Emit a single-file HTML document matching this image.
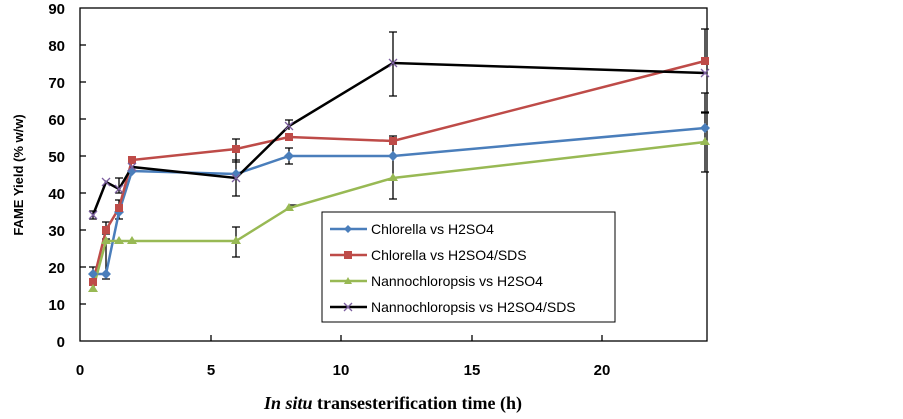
<!DOCTYPE html><html><head><style>body{margin:0;background:#fff}svg{font-family:"Liberation Sans",sans-serif}</style></head><body>
<svg width="903" height="414" xmlns="http://www.w3.org/2000/svg">
<rect x="80" y="8" width="627" height="333" fill="none" stroke="#000" stroke-width="1.3"/>
<g font-size="15" font-weight="bold" text-anchor="end">
<text x="65" y="347">0</text><text x="65" y="310">10</text><text x="65" y="273">20</text><text x="65" y="236">30</text><text x="65" y="199">40</text><text x="65" y="162">50</text><text x="65" y="125">60</text><text x="65" y="88">70</text><text x="65" y="51">80</text><text x="65" y="14">90</text>
</g>
<g stroke="#000" stroke-width="1.3">
<line x1="80" y1="304" x2="86" y2="304"/><line x1="80" y1="267" x2="86" y2="267"/><line x1="80" y1="230" x2="86" y2="230"/><line x1="80" y1="193" x2="86" y2="193"/><line x1="80" y1="156" x2="86" y2="156"/><line x1="80" y1="119" x2="86" y2="119"/><line x1="80" y1="82" x2="86" y2="82"/><line x1="80" y1="45" x2="86" y2="45"/>
<line x1="211" y1="341" x2="211" y2="335"/><line x1="341" y1="341" x2="341" y2="335"/><line x1="472" y1="341" x2="472" y2="335"/><line x1="602" y1="341" x2="602" y2="335"/>
</g>
<g font-size="15" font-weight="bold" text-anchor="middle">
<text x="80" y="375">0</text><text x="211" y="375">5</text><text x="341" y="375">10</text><text x="472" y="375">15</text><text x="602" y="375">20</text>
</g>
<text transform="translate(23,175) rotate(-90)" font-size="13" font-weight="bold" text-anchor="middle">FAME Yield (% w/w)</text>
<text x="393" y="409" font-size="18" font-weight="bold" text-anchor="middle" font-family="Liberation Serif,serif"><tspan font-style="italic">In situ</tspan> transesterification time (h)</text>
<g stroke="#000" stroke-width="1.3">
<path d="M93 267v16M89 267h8M89 283h8 M93 211v8M89 211h8M89 219h8
M106 222v12M102 222h8M102 234h8 M106 239v40M102 239h8M102 279h8
M119 178v15M115 178h8M115 193h8 M119 200v19M115 200h8M115 219h8
M236 139v23M232 139h8M232 162h8 M236 160v36M232 160h8M232 196h8 M236 227v30M232 227h8M232 257h8
M289 148v16M285 148h8M285 164h8 M289 120v10M285 120h8 M289 205h8
M393 32v64M389 32h8M389 96h8 M393 136v63M389 136h8M389 199h8
M705 29v35M701 29h8M701 64h8 M705 93v20M701 93h8M701 113h8 M705 112v60M701 112h8M701 172h8"/>
</g>
<polyline fill="none" stroke="#4a7ebb" stroke-width="2.5" points="93,274 106,274 119,212 132,171 236,174 289,156 393,156 705,128"/>
<polyline fill="none" stroke="#be4b48" stroke-width="2.5" points="93,282 106,230 119,208 132,160 236,149 289,137 393,141 705,61"/>
<polyline fill="none" stroke="#98b954" stroke-width="2.5" points="93,289 106,241 119,241 132,241 236,241 289,208 393,178 705,142"/>
<polyline fill="none" stroke="#000" stroke-width="2.5" points="93,215 106,182 119,189 132,167 236,178 289,126 393,63 705,73"/>
<g fill="#4a7ebb"><path d="M93 269l5 5-5 5-5-5z M106 269l5 5-5 5-5-5z M119 207l5 5-5 5-5-5z M132 166l5 5-5 5-5-5z M236 169l5 5-5 5-5-5z M289 151l5 5-5 5-5-5z M393 151l5 5-5 5-5-5z M705 123l5 5-5 5-5-5z"/></g>
<g fill="#be4b48"><rect x="89" y="278" width="8" height="8"/><rect x="102" y="226" width="8" height="8"/><rect x="115" y="204" width="8" height="8"/><rect x="128" y="156" width="8" height="8"/><rect x="232" y="145" width="8" height="8"/><rect x="285" y="133" width="8" height="8"/><rect x="389" y="137" width="8" height="8"/><rect x="701" y="57" width="8" height="8"/></g>
<g fill="#98b954"><path d="M93 284l5 8h-10z M106 236l5 8h-10z M119 236l5 8h-10z M132 236l5 8h-10z M236 236l5 8h-10z M289 203l5 8h-10z M393 173l5 8h-10z M705 137l5 8h-10z"/></g>
<g stroke="#7d60a0" stroke-width="1.3"><path d="M89 211l8 8M97 211l-8 8 M102 178l8 8M110 178l-8 8 M115 185l8 8M123 185l-8 8 M128 163l8 8M136 163l-8 8 M232 174l8 8M240 174l-8 8 M285 122l8 8M293 122l-8 8 M389 59l8 8M397 59l-8 8 M701 69l8 8M709 69l-8 8"/></g>
<rect x="322" y="212" width="293" height="110" fill="#fff" stroke="#000" stroke-width="1"/>
<g font-size="14">
<line x1="330" y1="229" x2="367" y2="229" stroke="#4a7ebb" stroke-width="2.5"/><path d="M348 225l4 4-4 4-4-4z" fill="#4a7ebb"/><text x="371" y="234">Chlorella vs H2SO4</text>
<line x1="330" y1="255" x2="367" y2="255" stroke="#be4b48" stroke-width="2.5"/><rect x="344" y="251" width="8" height="8" fill="#be4b48"/><text x="371" y="260">Chlorella vs H2SO4/SDS</text>
<line x1="330" y1="281" x2="367" y2="281" stroke="#98b954" stroke-width="2.5"/><path d="M348 277l4 7h-8z" fill="#98b954"/><text x="371" y="286">Nannochloropsis vs H2SO4</text>
<line x1="330" y1="307" x2="367" y2="307" stroke="#000" stroke-width="2.5"/><path d="M344 303l8 8M352 303l-8 8" stroke="#7d60a0" stroke-width="1.3"/><text x="371" y="312">Nannochloropsis vs H2SO4/SDS</text>
</g>
</svg>
</body></html>
